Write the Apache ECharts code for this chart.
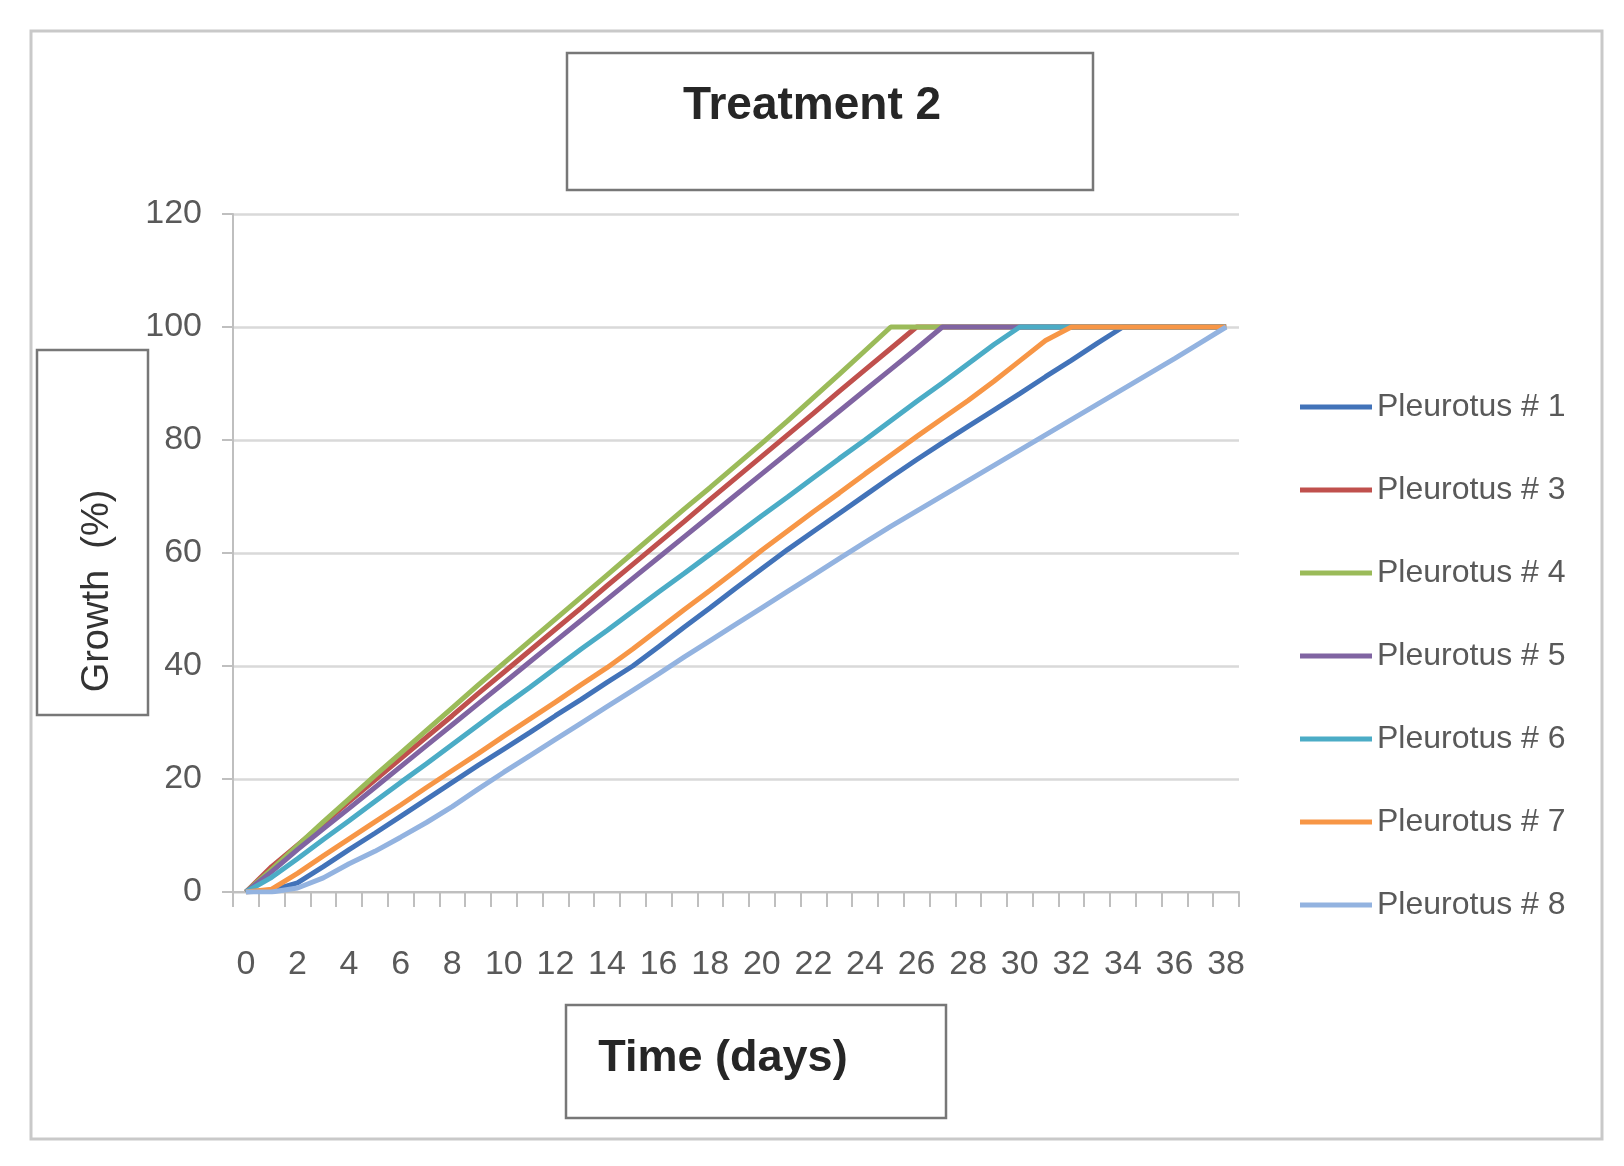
<!DOCTYPE html>
<html>
<head>
<meta charset="utf-8">
<script src="https://cdn.jsdelivr.net/npm/echarts@6/dist/echarts.min.js"></script>
<style>
html,body{margin:0;padding:0;background:#fff;}
#c{width:1624px;height:1166px;}
</style>
</head>
<body>
<div id="c"></div>
<script>
const days = ['0','1','2','3','4','5','6','7','8','9','10','11','12','13','14','15','16','17','18','19','20','21','22','23','24','25','26','27','28','29','30','31','32','33','34','35','36','37','38'];
const seriesNames = ['Pleurotus # 1','Pleurotus # 3','Pleurotus # 4','Pleurotus # 5','Pleurotus # 6','Pleurotus # 7','Pleurotus # 8'];
const p1 = [0,0.3,1.6,4.5,7.5,10.4,13.4,16.4,19.4,22.4,25.3,28.2,31.2,34.1,37.1,40,43.4,46.9,50.3,53.8,57.2,60.6,63.8,67,70.2,73.4,76.5,79.5,82.4,85.3,88.2,91.2,94.1,97.1,100,100,100,100,100];
const p3 = [0,4.5,8.3,12.1,16.0,19.8,23.6,27.4,31.2,35.1,38.9,42.7,46.5,50.3,54.2,58.0,61.8,65.6,69.5,73.3,77.1,80.9,84.7,88.6,92.4,96.2,100,100,100,100,100,100,100,100,100,100,100,100,100];
const p4 = [0,4,8.2,12.4,16.5,20.6,24.6,28.6,32.6,36.6,40.5,44.4,48.3,52.2,56.1,60,63.9,67.8,71.6,75.5,79.4,83.4,87.5,91.6,95.8,100,100,100,100,100,100,100,100,100,100,100,100,100,100];
const p5 = [0,3.6,7.5,11.2,14.8,18.5,22.2,25.9,29.6,33.3,37,40.7,44.4,48.1,51.8,55.5,59.2,62.9,66.6,70.3,74,77.7,81.4,85.1,88.8,92.5,96.2,100,100,100,100,100,100,100,100,100,100,100,100];
const p6 = [0,2.6,5.9,9.3,12.6,16.0,19.4,22.7,26.1,29.5,32.9,36.2,39.6,43.0,46.3,49.7,53.1,56.4,59.8,63.2,66.6,69.9,73.3,76.7,80.0,83.4,86.8,90.1,93.5,96.9,100,100,100,100,100,100,100,100,100];
const p7 = [0,0.5,3.3,6.4,9.4,12.4,15.4,18.5,21.5,24.5,27.6,30.6,33.6,36.7,39.7,43.0,46.5,50.0,53.4,56.9,60.5,63.9,67.3,70.6,74.0,77.3,80.6,83.8,87.0,90.4,94.0,97.6,100,100,100,100,100,100,100];
const p8 = [0,0,0.7,2.5,5,7.2,9.7,12.3,15.1,18.2,21.2,24.1,27,29.9,32.8,35.7,38.6,41.6,44.5,47.4,50.3,53.2,56.1,59,61.9,64.7,67.4,70.1,72.8,75.5,78.2,80.9,83.6,86.3,89,91.7,94.4,97.2,100];
const colors = ['#4273B9','#C0504D','#9BBB59','#8064A2','#4BACC6','#F79646','#93B3E0'];
const allData = [p1,p3,p4,p5,p6,p7,p8];
const yTicks = [0,20,40,60,80,100,120];

const FONT = '"Liberation Sans", Arial, sans-serif';
const chart = echarts.init(document.getElementById('c'));
chart.setOption({
  backgroundColor: '#ffffff',
  animation: false,
  color: colors,
  textStyle: {fontFamily: FONT},
  grid: {left: 233, right: 385, top: 214, bottom: 274, containLabel: false, outerBoundsMode: 'none'},
  legend: {
    orient: 'vertical',
    left: 1295,
    top: 382,
    icon: 'rect',
    itemWidth: 72,
    itemHeight: 5,
    itemGap: 43,
    data: seriesNames,
    textStyle: {fontFamily: FONT, fontSize: 32, color: '#595959', lineHeight: 40}
  },
  xAxis: {
    type: 'category',
    data: days,
    boundaryGap: true,
    axisLine: {show: true, lineStyle: {color: '#bfbfbf', width: 2}},
    axisTick: {show: true, interval: 0, length: 15, alignWithLabel: false, lineStyle: {color: '#bfbfbf', width: 2}},
    axisLabel: {interval: 1, fontSize: 34, color: '#595959', margin: 56, fontFamily: FONT},
    splitLine: {show: false}
  },
  yAxis: {
    type: 'value',
    min: yTicks[0],
    max: yTicks[yTicks.length - 1],
    interval: 20,
    axisLine: {show: true, lineStyle: {color: '#bfbfbf', width: 2}},
    axisTick: {show: true, length: 11, lineStyle: {color: '#bfbfbf', width: 2}},
    axisLabel: {fontSize: 34, color: '#595959', margin: 31, fontFamily: FONT},
    splitLine: {show: true, lineStyle: {color: '#d9d9d9', width: 2.5}}
  },
  series: seriesNames.map((n, i) => ({
    name: n,
    type: 'line',
    data: allData[i],
    showSymbol: false,
    symbol: 'none',
    smooth: false,
    lineStyle: {width: 5, color: colors[i]},
    itemStyle: {color: colors[i]},
    emphasis: {disabled: true}
  })),
  graphic: [
    {type: 'rect', shape: {x: 31, y: 31, width: 1571, height: 1108}, style: {fill: 'none', stroke: '#c9c9c9', lineWidth: 3}, silent: true},
    {type: 'rect', shape: {x: 567, y: 53, width: 526, height: 137}, style: {fill: '#fff', stroke: '#777777', lineWidth: 2.5}, silent: true},
    {type: 'text', x: 812, y: 106, style: {text: 'Treatment 2', font: 'bold 46px ' + FONT, fill: '#262626', textAlign: 'center', textVerticalAlign: 'middle'}, silent: true},
    {type: 'rect', shape: {x: 37, y: 350, width: 111, height: 365}, style: {fill: '#fff', stroke: '#777777', lineWidth: 2.5}, silent: true},
    {type: 'text', x: 98, y: 591, rotation: Math.PI / 2, style: {text: 'Growth  (%)', font: '38px ' + FONT, fill: '#333333', textAlign: 'center', textVerticalAlign: 'middle'}, silent: true},
    {type: 'rect', shape: {x: 566, y: 1005, width: 380, height: 113}, style: {fill: '#fff', stroke: '#777777', lineWidth: 2.5}, silent: true},
    {type: 'text', x: 723, y: 1059, style: {text: 'Time (days)', font: 'bold 45px ' + FONT, fill: '#262626', textAlign: 'center', textVerticalAlign: 'middle'}, silent: true}
  ]
});
</script>
</body>
</html>
